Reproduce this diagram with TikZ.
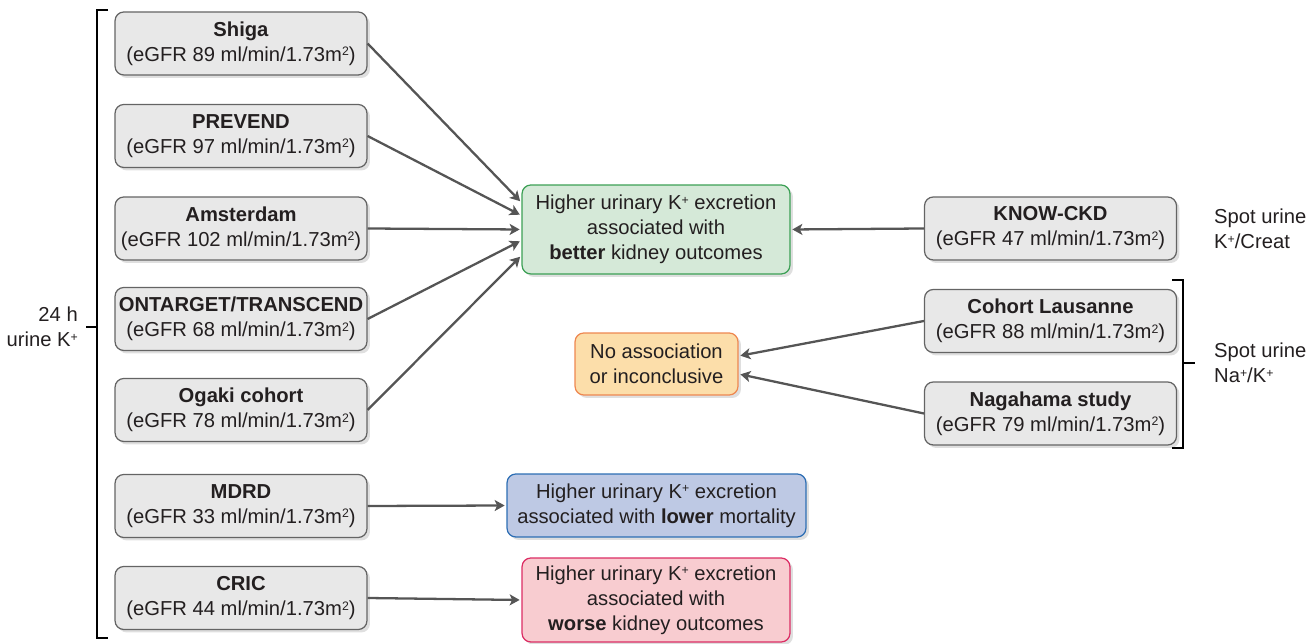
\documentclass[tikz,border=0pt]{standalone}
\usepackage{fontspec}
\setmainfont{Liberation Sans}
\usetikzlibrary{shadows, arrows.meta}

\definecolor{boxgray}{RGB}{232,232,232}
\definecolor{edgegray}{RGB}{100,100,100}
\definecolor{arrowgray}{RGB}{85,85,85}
\definecolor{txt}{RGB}{35,31,32}
\definecolor{greenfill}{RGB}{213,233,216}
\definecolor{greenedge}{RGB}{60,160,85}
\definecolor{orangefill}{RGB}{252,222,170}
\definecolor{orangeedge}{RGB}{238,135,80}
\definecolor{bluefill}{RGB}{190,201,228}
\definecolor{blueedge}{RGB}{45,110,180}
\definecolor{redfill}{RGB}{248,204,208}
\definecolor{rededge}{RGB}{220,45,100}

\tikzset{
  every node/.style={font=\fontsize{11.5}{14.2}\selectfont, text=txt},
  box/.style={rectangle, rounded corners=5pt, align=center, inner sep=2pt, line width=0.7pt,
    drop shadow={opacity=0.25, shadow xshift=0.06cm, shadow yshift=-0.06cm}},
  cohort/.style={box, draw=edgegray, fill=boxgray, minimum width=5.04cm, minimum height=1.26cm},
  better/.style={box, draw=greenedge, fill=greenfill, minimum width=5.36cm, minimum height=1.78cm},
  none/.style={box, draw=orangeedge, fill=orangefill, minimum width=3.26cm, minimum height=1.24cm},
  lower/.style={box, draw=blueedge, fill=bluefill, minimum width=5.98cm, minimum height=1.26cm},
  worse/.style={box, draw=rededge, fill=redfill, minimum width=5.36cm, minimum height=1.68cm},
  link/.style={-{Stealth[length=2mm, width=2.2mm, inset=0.5mm]}, draw=arrowgray, line width=1.3pt, shorten >=1pt},
  brace/.style={draw=black, line width=0.6pt}
}

\newcommand{\supsm}[1]{\raisebox{0.5ex}{\fontsize{7}{7}\selectfont #1}}
\newcommand{\egfr}[1]{(eGFR #1 ml/min/1.73m\supsm{2})}
\newcommand{\Kp}{K\supsm{+}}

\begin{document}
\begin{tikzpicture}[x=0.02cm, y=-0.02cm]
\useasboundingbox (0,0) rectangle (1315,644);

% studies with 24 h urine
\path (241, 43.5) node[cohort] (shiga) {\textbf{Shiga}\\\egfr{89}}
      (241, 136)  node[cohort] (prevend) {\textbf{PREVEND}\\\egfr{97}}
      (241, 228.5) node[cohort] (amsterdam) {\textbf{Amsterdam}\\\egfr{102}}
      (241, 319)  node[cohort] (ontarget) {\textbf{ONTARGET/TRANSCEND}\\\egfr{68}}
      (241, 410)  node[cohort] (ogaki) {\textbf{Ogaki cohort}\\\egfr{78}}
      (241, 506)  node[cohort] (mdrd) {\textbf{MDRD}\\\egfr{33}}
      (241, 598)  node[cohort] (cric) {\textbf{CRIC}\\\egfr{44}};

% studies with spot urine
\path (1050.5, 228.5) node[cohort] (knowckd) {\textbf{KNOW-CKD}\\\egfr{47}}
      (1050.5, 321)   node[cohort] (lausanne) {\textbf{Cohort Lausanne}\\\egfr{88}}
      (1050.5, 413.5) node[cohort] (nagahama) {\textbf{Nagahama study}\\\egfr{79}};

% outcomes
\path (656, 229.5) node[better] (better) {Higher urinary \Kp{} excretion\\associated with\\\textbf{better} kidney outcomes}
      (656.5, 364) node[none] (noassoc) {No association\\or inconclusive}
      (656.5, 505.5) node[lower] (mortality) {Higher urinary \Kp{} excretion\\associated with \textbf{lower} mortality}
      (656, 600) node[worse] (worse) {Higher urinary \Kp{} excretion\\associated with\\\textbf{worse} kidney outcomes};

\draw[link] (shiga.east) -- ([yshift=0.54cm]better.west);
\draw[link] (prevend.east) -- ([yshift=0.28cm]better.west);
\draw[link] (amsterdam.east) -- (better.west);
\draw[link] (ontarget.east) -- ([yshift=-0.22cm]better.west);
\draw[link] (ogaki.east) -- ([yshift=-0.52cm]better.west);
\draw[link] (knowckd.west) -- (better.east);
\draw[link] (lausanne.west) -- ([yshift=0.16cm]noassoc.east);
\draw[link] (nagahama.west) -- ([yshift=-0.2cm]noassoc.east);
\draw[link] (mdrd.east) -- (mortality.west);
\draw[link] (cric.east) -- (worse.west);

% brackets
\draw[brace] (108,10) -- (97,10) -- (97,638) -- (108,638);
\draw[brace] (86,327) -- (97,327);
\node[anchor=east, align=right] (urine24) at (84,327) {24 h\\urine \Kp};
\draw[brace] (1172,280) -- (1183,280) -- (1183,448) -- (1172,448);
\draw[brace] (1183,363) -- (1195,363);
\node[anchor=west, align=left] (spotnak) at (1208,363) {Spot urine\\Na\supsm{+}/\Kp};
\node[anchor=west, align=left] (spotkcr) at (1208,229) {Spot urine\\\Kp/Creat};
\end{tikzpicture}
\end{document}
